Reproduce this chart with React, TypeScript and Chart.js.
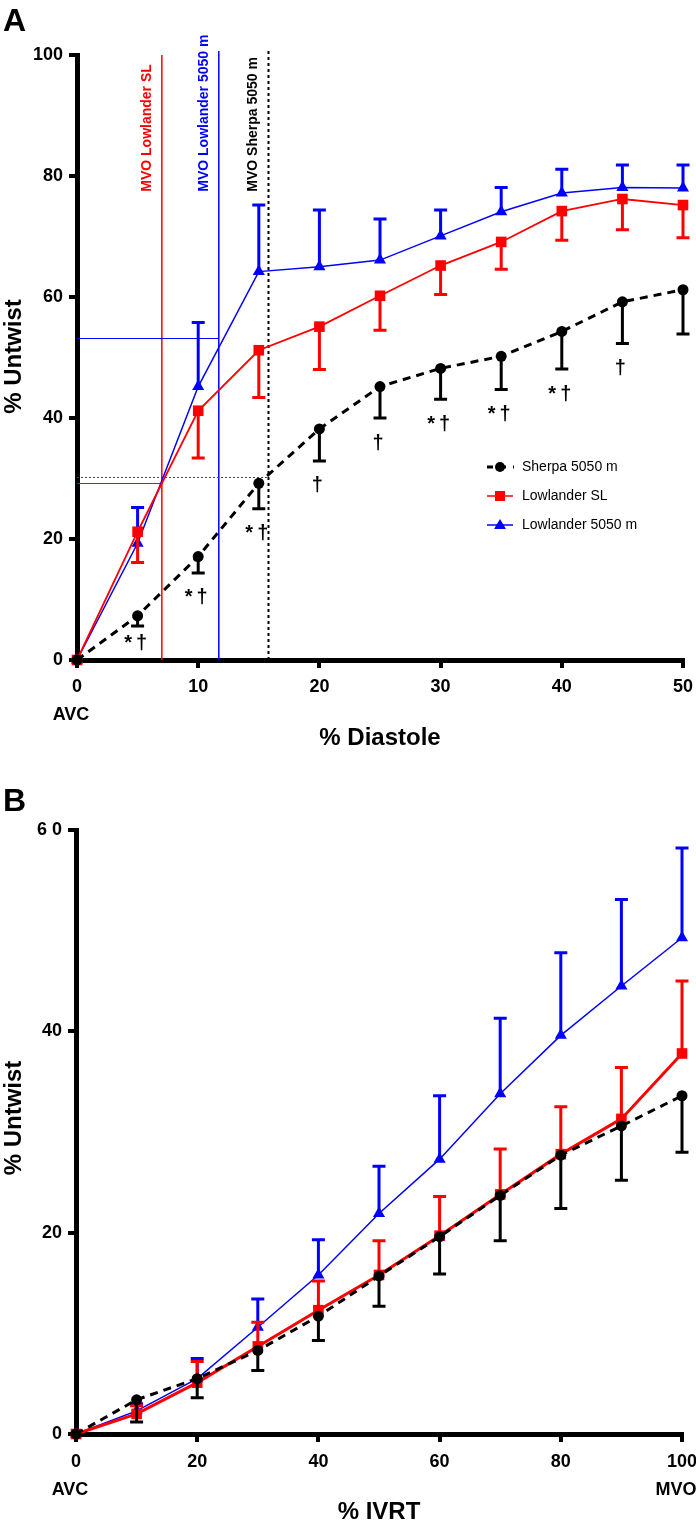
import React, { useEffect, useRef } from 'react';
import { Chart, registerables } from 'chart.js';
Chart.register(...registerables);

const FONT = "'Liberation Sans', Arial, Helvetica, sans-serif";
const RED = '#ff0000';
const BLUE = '#0000ff';
const BLACK = '#000000';

const seriesNames = ['Sherpa 5050 m', 'Lowlander SL', 'Lowlander 5050 m'];

// ---------- Panel A ----------
const xA = [0, 5, 10, 15, 20, 25, 30, 35, 40, 45, 50];
const sherpaA = [0, 7.3, 17.1, 29.2, 38.2, 45.2, 48.2, 50.2, 54.3, 59.2, 61.2];
const sherpaA_sd = [0, 1.7, 2.7, 4.2, 5.3, 5.2, 5.1, 5.5, 6.2, 6.9, 7.3];
const lowSLA = [0, 21.2, 41.2, 51.2, 55.1, 60.2, 65.2, 69.1, 74.2, 76.2, 75.2];
const lowSLA_sd = [0, 5.1, 7.8, 7.8, 7.1, 5.7, 4.8, 4.5, 4.8, 5.1, 5.4];
const low5050A = [0, 19.3, 45.2, 64.2, 65.0, 66.1, 70.1, 74.1, 77.2, 78.1, 78.0];
const low5050A_sd = [0, 5.9, 10.6, 11.0, 9.4, 6.8, 4.3, 4.0, 3.9, 3.7, 3.8];
const sigA = ['', '*†', '*†', '*†', '†', '†', '*†', '*†', '*†', '†', ''];
const mvoLabels = ['MVO Lowlander SL', 'MVO Lowlander 5050 m', 'MVO Sherpa 5050 m'];
const mvoX = [7.0, 11.7, 15.8];
const mvoY = [29.3, 53.3, 30.2];
const subLabelsA = [{ value: 0, text: 'AVC' }];

// ---------- Panel B ----------
const xB = [0, 10, 20, 30, 40, 50, 60, 70, 80, 90, 100];
const sherpaB = [0, 3.4, 5.5, 8.3, 11.7, 15.7, 19.6, 23.7, 27.7, 30.6, 33.6];
const sherpaB_sd = [0, 2.2, 1.9, 2.0, 2.4, 3.0, 3.7, 4.5, 5.3, 5.4, 5.6];
const lowSLB = [0, 2.0, 5.1, 8.7, 12.3, 15.8, 19.7, 23.8, 27.8, 31.3, 37.8];
const lowSLB_sd = [0, 0.8, 2.1, 2.4, 2.9, 3.4, 3.9, 4.5, 4.7, 5.1, 7.2];
const low5050B = [0, 2.3, 5.5, 10.6, 15.8, 21.9, 27.3, 33.8, 39.6, 44.5, 49.3];
const low5050B_sd = [0, 0.7, 2.0, 2.8, 3.5, 4.7, 6.3, 7.5, 8.2, 8.6, 8.9];
const subLabelsB = [{ value: 0, text: 'AVC' }, { value: 100, text: 'MVO' }];

const errorBarPlugin = {
  id: 'errorBars',
  beforeDatasetDraw(chart: any, args: any) {
    const ds: any = chart.data.datasets[args.index];
    if (!ds.errors) return;
    const ys = chart.scales.y;
    const ctx = chart.ctx;
    ctx.save();
    ctx.strokeStyle = ds.borderColor;
    ctx.lineWidth = ds.errLineWidth || 3;
    ctx.setLineDash([]);
    const cap = 6.5;
    args.meta.data.forEach((pt: any, i: number) => {
      const e = ds.errors[i];
      if (!e) return;
      const v = ds.data[i].y;
      const end = ys.getPixelForValue(v + ds.errDir * e);
      ctx.beginPath();
      ctx.moveTo(pt.x, pt.y);
      ctx.lineTo(pt.x, end);
      ctx.moveTo(pt.x - cap, end);
      ctx.lineTo(pt.x + cap, end);
      ctx.stroke();
    });
    ctx.restore();
  },
};

const panelLetterPlugin = {
  id: 'panelLetter',
  afterDraw(chart: any, _a: any, opts: any) {
    const ctx = chart.ctx;
    ctx.save();
    ctx.fillStyle = '#000';
    ctx.font = `bold 32px ${FONT}`;
    ctx.textAlign = 'left';
    ctx.textBaseline = 'middle';
    ctx.fillText(opts.text, 3, 22);
    // y-axis title
    ctx.font = `bold 24px ${FONT}`;
    ctx.textAlign = 'center';
    ctx.translate(14.5, (chart.chartArea.top + chart.chartArea.bottom) / 2 + opts.yTitleShift);
    ctx.rotate(-Math.PI / 2);
    ctx.fillText('% Untwist', 0, 0);
    ctx.restore();
  },
};

const subLabelPlugin = {
  id: 'subLabels',
  afterDraw(chart: any, _a: any, opts: any) {
    const ctx = chart.ctx;
    const xs = chart.scales.x;
    ctx.save();
    ctx.fillStyle = '#000';
    ctx.font = `bold 18px ${FONT}`;
    ctx.textAlign = 'center';
    ctx.textBaseline = 'middle';
    const y = chart.chartArea.bottom + opts.dy;
    opts.items.forEach((it: any) => {
      ctx.fillText(it.text, xs.getPixelForValue(it.value) - 6, y);
    });
    ctx.restore();
  },
};

const mvoPlugin = {
  id: 'mvoLines',
  beforeDatasetsDraw(chart: any) {
    const ctx = chart.ctx;
    const xs = chart.scales.x;
    const ys = chart.scales.y;
    const colors = [RED, BLUE, BLACK];
    const left = chart.chartArea.left;
    ctx.save();
    mvoX.forEach((mx, k) => {
      const px = xs.getPixelForValue(mx);
      const py = Math.round(ys.getPixelForValue(mvoY[k])) + 0.5;
      // horizontal
      ctx.beginPath();
      ctx.strokeStyle = k === 2 ? '#444' : colors[k];
      ctx.lineWidth = 1;
      ctx.setLineDash(k === 2 ? [2, 2] : []);
      ctx.moveTo(left, py);
      ctx.lineTo(px, py);
      ctx.stroke();
      // vertical
      ctx.beginPath();
      ctx.strokeStyle = colors[k];
      ctx.lineWidth = k === 2 ? 2 : 1.5;
      ctx.setLineDash(k === 2 ? [3, 3] : []);
      ctx.moveTo(px, ys.getPixelForValue(0));
      ctx.lineTo(px, ys.getPixelForValue(100) - (k === 0 ? 0 : 4));
      ctx.stroke();
      // label
      ctx.save();
      ctx.setLineDash([]);
      ctx.translate(px - 15, ys.getPixelForValue(77.4));
      ctx.rotate(-Math.PI / 2);
      ctx.fillStyle = colors[k];
      ctx.font = `bold 14px ${FONT}`;
      ctx.textAlign = 'left';
      ctx.textBaseline = 'middle';
      ctx.fillText(mvoLabels[k], 0, 0);
      ctx.restore();
    });
    ctx.restore();
  },
};

const sigPlugin = {
  id: 'sigMarks',
  afterDatasetsDraw(chart: any) {
    const ctx = chart.ctx;
    const xs = chart.scales.x;
    const ys = chart.scales.y;
    ctx.save();
    ctx.fillStyle = '#000';
    ctx.font = `bold 20px ${FONT}`;
    (ctx as any).letterSpacing = '4px';
    ctx.textAlign = 'center';
    ctx.textBaseline = 'middle';
    sigA.forEach((s, i) => {
      if (!s) return;
      const px = xs.getPixelForValue(xA[i]);
      let py = ys.getPixelForValue(sherpaA[i] - sherpaA_sd[i]) + 25;
      py = Math.min(py, ys.getPixelForValue(0) - 17);
      ctx.fillText(s, px, py);
    });
    ctx.restore();
  },
};

const legendPlugin = {
  id: 'customLegend',
  afterDatasetsDraw(chart: any) {
    const ctx = chart.ctx;
    const rows = [467, 496, 525];
    const x0 = 487, x1 = 513, xm = 500, tx = 522;
    ctx.save();
    // Sherpa
    ctx.strokeStyle = BLACK;
    ctx.lineWidth = 3;
    ctx.setLineDash([6, 7]);
    ctx.beginPath();
    ctx.moveTo(x0, rows[0]);
    ctx.lineTo(x1 + 1, rows[0]);
    ctx.stroke();
    ctx.setLineDash([]);
    ctx.fillStyle = BLACK;
    ctx.beginPath();
    ctx.arc(xm, rows[0], 5, 0, Math.PI * 2);
    ctx.fill();
    // Lowlander SL
    ctx.strokeStyle = RED;
    ctx.lineWidth = 1.5;
    ctx.beginPath();
    ctx.moveTo(x0, rows[1]);
    ctx.lineTo(x1, rows[1]);
    ctx.stroke();
    ctx.fillStyle = RED;
    ctx.fillRect(xm - 5, rows[1] - 5, 10, 10);
    // Lowlander 5050
    ctx.strokeStyle = BLUE;
    ctx.beginPath();
    ctx.moveTo(x0, rows[2]);
    ctx.lineTo(x1, rows[2]);
    ctx.stroke();
    ctx.fillStyle = BLUE;
    ctx.beginPath();
    ctx.moveTo(xm, rows[2] - 6);
    ctx.lineTo(xm + 6, rows[2] + 4);
    ctx.lineTo(xm - 6, rows[2] + 4);
    ctx.closePath();
    ctx.fill();
    // texts
    ctx.fillStyle = '#000';
    ctx.font = `14px ${FONT}`;
    ctx.textAlign = 'left';
    ctx.textBaseline = 'middle';
    seriesNames.forEach((n, i) => ctx.fillText(n, tx, rows[i]));
    ctx.restore();
  },
};

function toXY(xs: number[], ys: number[]) {
  return xs.map((x, i) => ({ x, y: ys[i] }));
}

function makeDatasets(
  xs: number[],
  s: number[], sSd: number[],
  sl: number[], slSd: number[],
  l5: number[], l5Sd: number[],
  redWidth: number, redDir: number
) {
  return [
    {
      label: seriesNames[0],
      data: toXY(xs, s),
      errors: sSd,
      errDir: -1,
      errLineWidth: 3,
      borderColor: BLACK,
      backgroundColor: BLACK,
      borderWidth: 3,
      borderDash: [8, 6],
      pointStyle: 'circle',
      pointRadius: 5.5,
      pointBorderWidth: 0,
      pointBackgroundColor: BLACK,
      tension: 0,
      fill: false,
      clip: false,
    },
    {
      label: seriesNames[1],
      data: toXY(xs, sl),
      errors: slSd,
      errDir: redDir,
      errLineWidth: 3,
      borderColor: RED,
      backgroundColor: RED,
      borderWidth: redWidth,
      pointStyle: 'rect',
      pointRadius: 7.5,
      pointBorderWidth: 0,
      pointBackgroundColor: RED,
      tension: 0,
      fill: false,
      clip: false,
    },
    {
      label: seriesNames[2],
      data: toXY(xs, l5),
      errors: l5Sd,
      errDir: 1,
      errLineWidth: 3,
      borderColor: BLUE,
      backgroundColor: BLUE,
      borderWidth: 1.5,
      pointStyle: 'triangle',
      pointRadius: 7,
      pointBorderWidth: 0,
      pointBackgroundColor: BLUE,
      tension: 0,
      fill: false,
      clip: false,
    },
  ];
}

function makeOptions(p: {
  canvasH: number; top: number; bottom: number; right: number; left: number;
  xMax: number; xStep: number; yMax: number; yStep: number;
  xTitle: string; xTitlePad: number; tickPad: number;
  yLabel: (v: number) => any; letter: string; sub: any[]; subDy: number; yTitleShift: number;
}) {
  return {
    responsive: false,
    animation: false,
    events: [],
    layout: { padding: { top: p.top, right: 696 - p.right, bottom: 0, left: 0 } },
    plugins: {
      legend: { display: false },
      tooltip: { enabled: false },
      panelLetter: { text: p.letter, yTitleShift: p.yTitleShift },
      subLabels: { items: p.sub, dy: p.subDy },
    },
    scales: {
      x: {
        type: 'linear',
        min: 0,
        max: p.xMax,
        afterFit(scale: any) {
          scale.height = p.canvasH - p.bottom;
          scale.paddingLeft = 0;
          scale.paddingRight = 0;
        },
        ticks: {
          stepSize: p.xStep,
          color: '#000',
          padding: p.tickPad,
          maxRotation: 0,
          font: { family: FONT, size: 18, weight: 'bold', lineHeight: 1.55 },
        },
        grid: {
          display: true,
          drawOnChartArea: false,
          drawTicks: true,
          tickLength: 8,
          lineWidth: 4,
          color: '#000',
        },
        border: { display: true, width: 5, color: '#000' },
        title: {
          display: true,
          text: p.xTitle,
          color: '#000',
          font: { family: FONT, size: 24, weight: 'bold', lineHeight: 1.2 },
          padding: { top: 0, bottom: p.xTitlePad },
        },
      },
      y: {
        type: 'linear',
        min: 0,
        max: p.yMax,
        afterFit(scale: any) {
          scale.width = p.left;
          scale.paddingTop = 0;
          scale.paddingBottom = 0;
        },
        ticks: {
          stepSize: p.yStep,
          color: '#000',
          padding: 6,
          font: { family: FONT, size: 18, weight: 'bold' },
          callback: (v: number) => p.yLabel(v),
        },
        grid: {
          display: true,
          drawOnChartArea: false,
          drawTicks: true,
          tickLength: 8,
          lineWidth: 4,
          color: '#000',
        },
        border: { display: true, width: 5, color: '#000' },
        title: { display: false },
      },
    },
  };
}

function ChartCanvas({ config, width, height }: { config: () => any; width: number; height: number }) {
  const ref = useRef<HTMLCanvasElement | null>(null);
  useEffect(() => {
    if (!ref.current) return;
    const chart = new Chart(ref.current, config());
    return () => chart.destroy();
  }, []);
  return <canvas ref={ref} width={width} height={height} style={{ display: 'block', width, height }} />;
}

function configA() {
  return {
    type: 'line',
    data: {
      datasets: makeDatasets(xA, sherpaA, sherpaA_sd, lowSLA, lowSLA_sd, low5050A, low5050A_sd, 1.8, -1),
    },
    options: makeOptions({
      canvasH: 780, top: 55, bottom: 660, right: 683, left: 77,
      xMax: 50, xStep: 10, yMax: 100, yStep: 20,
      xTitle: '% Diastole', xTitlePad: 27.6, tickPad: 5,
      yLabel: (v) => String(v),
      letter: 'A', sub: subLabelsA, subDy: 55, yTitleShift: -1,
    }),
    plugins: [errorBarPlugin, mvoPlugin, sigPlugin, legendPlugin, panelLetterPlugin, subLabelPlugin],
  };
}

function configB() {
  return {
    type: 'line',
    data: {
      datasets: makeDatasets(xB, sherpaB, sherpaB_sd, lowSLB, lowSLB_sd, low5050B, low5050B_sd, 3, 1),
    },
    options: makeOptions({
      canvasH: 751, top: 50, bottom: 654, right: 682, left: 76,
      xMax: 100, xStep: 20, yMax: 60, yStep: 20,
      xTitle: '% IVRT', xTitlePad: 4.6, tickPad: 6,
      yLabel: (v) => (v === 60 ? '6 0' : String(v)),
      letter: 'B', sub: subLabelsB, subDy: 56, yTitleShift: -14,
    }),
    plugins: [errorBarPlugin, panelLetterPlugin, subLabelPlugin],
  };
}

export default function App() {
  useEffect(() => {
    document.body.style.margin = '0';
    document.body.style.background = '#fff';
  }, []);
  return (
    <div style={{ width: 696, height: 1531, background: '#fff', margin: 0 }}>
      <ChartCanvas config={configA} width={696} height={780} />
      <ChartCanvas config={configB} width={696} height={751} />
    </div>
  );
}
